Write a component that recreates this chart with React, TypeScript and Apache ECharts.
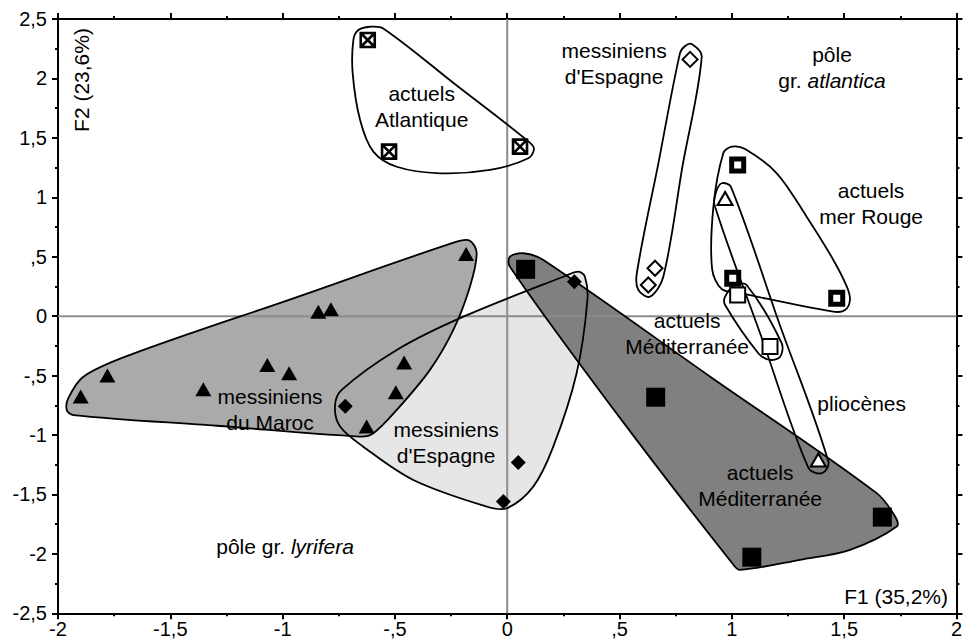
import React, { useEffect, useRef } from 'react';
import * as echarts from 'echarts';

const FONT = "'Liberation Sans', Arial, Helvetica, sans-serif";

// Axis ranges & tick labels
const X_MIN = -2;
const X_MAX = 2;
const Y_MIN = -2.5;
const Y_MAX = 2.5;
const STEP = 0.5;
const xTickLabels = ['-2', '-1,5', '-1', '-,5', '0', ',5', '1', '1,5', '2'];
const yTickLabels = ['-2,5', '-2', '-1,5', '-1', '-,5', '0', ',5', '1', '1,5', '2', '2,5'];

// Points (F1, F2)
const actuelsAtlantique = [[-0.621, 2.323], [-0.526, 1.384], [0.057, 1.426]];
const messiniensEspagneOpen = [[0.814, 2.16], [0.658, 0.403], [0.628, 0.262]];
const actuelsMerRouge = [[1.026, 1.272], [1.004, 0.319], [1.467, 0.15]];
const actuelsMedOpen = [[1.026, 0.178], [1.17, -0.256]];
const pliocenes = [[0.97, 0.99], [1.385, -1.21]];
const actuelsMedFilled = [[0.082, 0.394], [0.661, -0.682], [1.089, -2.028], [1.67, -1.691]];
const messiniensEspagneFilled = [[0.299, 0.29], [-0.721, -0.757], [0.049, -1.232], [-0.017, -1.56]];
const messiniensMaroc = [
  [-1.899, -0.677], [-1.78, -0.5], [-1.353, -0.615], [-1.068, -0.41], [-0.971, -0.48],
  [-0.841, 0.038], [-0.785, 0.058], [-0.183, 0.523], [-0.459, -0.391], [-0.496, -0.64], [-0.626, -0.929],
];

// Group envelopes (outline vertices, data units)
const hullAtlantique = [
  [-0.685, 2.323], [-0.663, 2.407], [-0.611, 2.435], [-0.552, 2.421], [-0.232, 1.951], [0.087, 1.482],
  [0.119, 1.412], [0.094, 1.328], [-0.077, 1.23], [-0.299, 1.202], [-0.492, 1.257], [-0.596, 1.384],
  [-0.655, 1.65], [-0.688, 2.043],
];
const hullEspagneOpen = [
  [0.769, 2.211], [0.792, 2.273], [0.821, 2.289], [0.866, 2.183], [0.78, 1.257], [0.695, 0.332],
  [0.636, 0.164], [0.584, 0.22], [0.577, 0.361], [0.673, 1.286],
];
const hullMerRouge = [
  [0.9996, 1.4256], [1.059, 1.406], [1.2, 1.202], [1.333, 0.837], [1.452, 0.473], [1.512, 0.248],
  [1.526, 0.136], [1.504, 0.052], [1.452, 0.038], [1.037, 0.193], [0.955, 0.228], [0.912, 0.4],
  [0.918, 0.921], [0.962, 1.37],
];
const hullPliocenes = [
  [0.93, 1.045], [0.955, 1.118], [0.996, 1.087], [1.213, -0.07], [1.43, -1.226], [1.402, -1.321],
  [1.341, -1.277], [1.131, -0.171], [0.923, 0.935],
];
const hullMedOpen = [
  [0.97, 0.164], [1.014, 0.262], [1.066, 0.262], [1.222, -0.228], [1.215, -0.341], [1.17, -0.368],
  [1.118, -0.312], [0.97, 0.094],
];
const hullEspagneFilled = [
  [0.258, 0.338], [0.317, 0.374], [0.346, 0.332], [0.357, 0.136], [0.309, -0.48], [0.205, -1.098],
  [0.116, -1.434], [-0.002, -1.616], [-0.091, -1.602], [-0.418, -1.378], [-0.641, -1.098],
  [-0.744, -0.929], [-0.767, -0.761], [-0.737, -0.621], [-0.492, -0.284], [-0.195, -0.004],
];
const hullMaroc = [
  [-1.961, -0.789], [-1.954, -0.69], [-1.887, -0.509], [-1.679, -0.326], [-0.952, 0.15], [-0.225, 0.627],
  [-0.166, 0.635], [-0.136, 0.529], [-0.166, 0.248], [-0.24, -0.116], [-0.344, -0.452], [-0.492, -0.789],
  [-0.596, -0.985], [-0.655, -1.013], [-1.293, -0.922], [-1.932, -0.832],
];
const hullMedFilled = [
  [0.012, 0.5], [0.072, 0.529], [0.161, 0.473], [0.904, -0.509], [1.645, -1.489], [1.727, -1.686],
  [1.734, -1.77], [1.526, -1.966], [1.304, -2.05], [1.037, -2.135], [1.007, -2.092], [0.502, -0.856],
  [0.012, 0.416],
];

// Annotation texts and their anchor positions (data units)
const labelTexts = [
  'actuels\nAtlantique',
  "messiniens\nd'Espagne",
  'pôle\ngr. {i|atlantica}',
  'actuels\nmer Rouge',
  'actuels\nMéditerranée',
  'pliocènes',
  'actuels\nMéditerranée',
  "messiniens\nd'Espagne",
  'messiniens\ndu Maroc',
  'pôle gr. {i|lyrifera}',
];
const labelPositions = [
  [-0.381, 1.762], [0.476, 2.125], [1.446, 2.092], [1.62, 0.95], [0.801, -0.15],
  [1.578, -0.738], [1.126, -1.422], [-0.272, -1.062], [-1.056, -0.786], [-0.989, -1.939],
];

const fillHulls = [hullEspagneFilled, hullMaroc, hullMedFilled];
const fillColors = ['#e6e6e6', '#aaaaaa', '#808080'];
const outlineHulls = [
  hullEspagneFilled, hullMaroc, hullMedFilled, hullAtlantique, hullEspagneOpen,
  hullMerRouge, hullPliocenes, hullMedOpen,
];

function smoothClosedPath(pts: number[][]): string {
  const n = pts.length;
  const dist = (a: number[], b: number[]) => Math.hypot(b[0] - a[0], b[1] - a[1]) || 1e-6;
  const tangents = pts.map((p, i) => {
    const prev = pts[(i - 1 + n) % n];
    const next = pts[(i + 1) % n];
    const d = dist(prev, p) + dist(p, next);
    return [(next[0] - prev[0]) / d, (next[1] - prev[1]) / d];
  });
  let d = `M${pts[0][0].toFixed(2)},${pts[0][1].toFixed(2)}`;
  for (let i = 0; i < n; i++) {
    const p1 = pts[i];
    const p2 = pts[(i + 1) % n];
    const t1 = tangents[i];
    const t2 = tangents[(i + 1) % n];
    const L = dist(p1, p2) / 3;
    const c1 = [p1[0] + t1[0] * L, p1[1] + t1[1] * L];
    const c2 = [p2[0] - t2[0] * L, p2[1] - t2[1] * L];
    d += ` C${c1[0].toFixed(2)},${c1[1].toFixed(2)} ${c2[0].toFixed(2)},${c2[1].toFixed(2)} ${p2[0].toFixed(2)},${p2[1].toFixed(2)}`;
  }
  return d + ' Z';
}

const tickStyle = { color: '#000', width: 2 };

function makeXAxis(position: 'top' | 'bottom', showLabels: boolean) {
  return {
    type: 'value',
    position,
    min: X_MIN,
    max: X_MAX,
    interval: STEP,
    axisLine: { show: true, onZero: false, lineStyle: { color: '#000', width: 2 } },
    axisTick: { show: true, inside: false, length: 6, lineStyle: tickStyle },
    minorTick: { show: true, splitNumber: 2, length: 3, lineStyle: tickStyle },
    splitLine: { show: false },
    minorSplitLine: { show: false },
    axisLabel: {
      show: showLabels,
      margin: 6,
      color: '#000',
      fontSize: 20,
      fontFamily: FONT,
      formatter: (v: number) => xTickLabels[Math.round((v - X_MIN) / STEP)] ?? '',
    },
  };
}

function makeYAxis(position: 'left' | 'right', showLabels: boolean) {
  return {
    type: 'value',
    position,
    min: Y_MIN,
    max: Y_MAX,
    interval: STEP,
    axisLine: { show: true, onZero: false, lineStyle: { color: '#000', width: 2 } },
    axisTick: { show: true, inside: false, length: 6, lineStyle: tickStyle },
    minorTick: { show: true, splitNumber: 2, length: 3, lineStyle: tickStyle },
    splitLine: { show: false },
    minorSplitLine: { show: false },
    axisLabel: {
      show: showLabels,
      margin: 11,
      color: '#000',
      fontSize: 20,
      fontFamily: FONT,
      formatter: (v: number) => yTickLabels[Math.round((v - Y_MIN) / STEP)] ?? '',
    },
  };
}

function scatterSeries(data: number[][], symbol: string, size: number | number[], fill: string, borderWidth: number) {
  return {
    type: 'scatter',
    z: 4,
    silent: true,
    symbol,
    symbolSize: size,
    data,
    itemStyle: { color: fill, borderColor: '#000', borderWidth, opacity: 1 },
  };
}

export default function App() {
  const ref = useRef<HTMLDivElement>(null);

  useEffect(() => {
    if (!ref.current) return;
    const chart = echarts.init(ref.current, undefined, { renderer: 'svg' });
    const boxedX = 'path://M0,0L10,0L10,10L0,10Z M0,0L10,10 M10,0L0,10';

    chart.setOption({
      animation: false,
      backgroundColor: '#ffffff',
      grid: { left: 58, top: 19, width: 898.5, height: 594.3, containLabel: false },
      xAxis: [makeXAxis('bottom', true), makeXAxis('top', false)],
      yAxis: [makeYAxis('left', true), makeYAxis('right', false)],
      graphic: [
        {
          type: 'text',
          x: 81,
          y: 80,
          rotation: Math.PI / 2,
          z: 10,
          style: {
            text: 'F2 (23,6%)', fill: '#000', fontSize: 21, fontFamily: FONT,
            align: 'center', verticalAlign: 'middle', textAlign: 'center', textVerticalAlign: 'middle',
          },
        },
        {
          type: 'text',
          x: 948,
          y: 596,
          z: 10,
          style: {
            text: 'F1 (35,2%)', fill: '#000', fontSize: 21, fontFamily: FONT,
            align: 'right', verticalAlign: 'middle', textAlign: 'right', textVerticalAlign: 'middle',
          },
        },
      ],
      series: [
        {
          type: 'custom',
          z: 1,
          silent: true,
          data: fillHulls.map(() => [0, 0]),
          renderItem: (params: any, api: any) => {
            const pts = fillHulls[params.dataIndex].map((p) => api.coord(p));
            return {
              type: 'path',
              shape: { pathData: smoothClosedPath(pts) },
              style: { fill: fillColors[params.dataIndex], stroke: 'none' },
            };
          },
        },
        {
          type: 'custom',
          z: 2,
          silent: true,
          data: [[0, 0]],
          renderItem: (_params: any, api: any) => {
            const a = api.coord([X_MIN, 0]);
            const b = api.coord([X_MAX, 0]);
            const c = api.coord([0, Y_MIN]);
            const d = api.coord([0, Y_MAX]);
            const st = { stroke: '#8c8c8c', lineWidth: 2 };
            return {
              type: 'group',
              children: [
                { type: 'line', shape: { x1: a[0], y1: a[1], x2: b[0], y2: b[1] }, style: st },
                { type: 'line', shape: { x1: c[0], y1: c[1], x2: d[0], y2: d[1] }, style: st },
              ],
            };
          },
        },
        {
          type: 'custom',
          z: 3,
          silent: true,
          data: outlineHulls.map(() => [0, 0]),
          renderItem: (params: any, api: any) => {
            const pts = outlineHulls[params.dataIndex].map((p) => api.coord(p));
            return {
              type: 'path',
              shape: { pathData: smoothClosedPath(pts) },
              style: { fill: 'none', stroke: '#000', lineWidth: 1.8 },
            };
          },
        },
        scatterSeries(actuelsAtlantique, boxedX, 14, '#fff', 2.6),
        scatterSeries(messiniensEspagneOpen, 'diamond', 15, '#fff', 2),
        scatterSeries(actuelsMerRouge, 'rect', 12, '#fff', 5),
        scatterSeries(actuelsMedOpen, 'rect', 15, '#fff', 2),
        scatterSeries(pliocenes, 'triangle', [15, 13], '#fff', 2),
        scatterSeries(actuelsMedFilled, 'rect', 19, '#000', 0),
        scatterSeries(messiniensEspagneFilled, 'diamond', 15, '#000', 0),
        scatterSeries(messiniensMaroc, 'triangle', [16, 14], '#000', 0),
        {
          type: 'custom',
          z: 5,
          silent: true,
          data: labelPositions.map(() => [0, 0]),
          renderItem: (params: any, api: any) => {
            const p = api.coord(labelPositions[params.dataIndex]);
            return {
              type: 'text',
              x: p[0],
              y: p[1],
              style: {
                text: labelTexts[params.dataIndex],
                fill: '#000',
                fontSize: 21,
                fontFamily: FONT,
                lineHeight: 26,
                align: 'center',
                verticalAlign: 'middle',
                textAlign: 'center',
                textVerticalAlign: 'middle',
                rich: {
                  i: { fontStyle: 'italic', fontSize: 21, fontFamily: FONT, lineHeight: 26, fill: '#000' },
                },
              },
            };
          },
        },
      ],
    });

    return () => chart.dispose();
  }, []);

  return (
    <div
      ref={ref}
      style={{ position: 'absolute', left: 0, top: 0, width: 965, height: 642, background: '#fff' }}
    />
  );
}
